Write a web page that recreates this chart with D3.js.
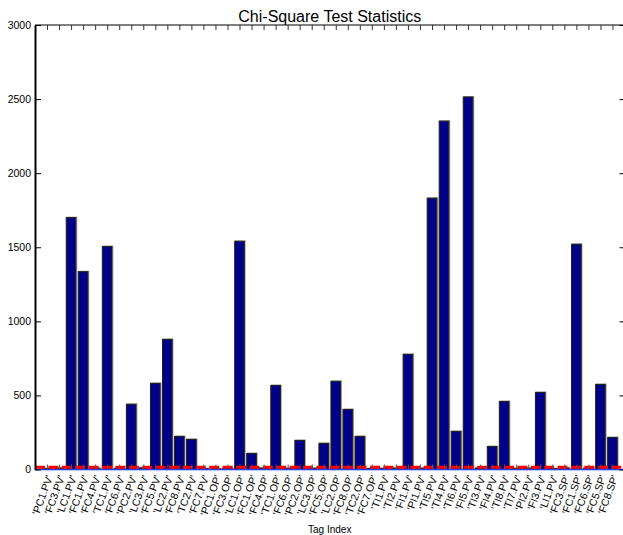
<!DOCTYPE html>
<html>
<head>
<meta charset="utf-8">
<script src="https://cdn.jsdelivr.net/npm/d3@7"></script>
<style>
  body { margin: 0; background: #fff; }
  svg { font-family: "Liberation Sans", Arial, sans-serif; }
</style>
</head>
<body>
<svg id="chart"></svg>
<script>
// tag names along the x axis
const tags = [
  "'PC1.PV'", "'FC3.PV'", "'LC1.PV'", "'FC1.PV'", "'FC4.PV'", "'TC1.PV'", "'FC6.PV'",
  "'PC2.PV'", "'LC3.PV'", "'FC5.PV'", "'LC2.PV'", "'FC8.PV'", "'TC2.PV'", "'FC7.PV'",
  "'PC1.OP'", "'FC3.OP'", "'LC1.OP'", "'FC1.OP'", "'FC4.OP'", "'TC1.OP'", "'FC6.OP'",
  "'PC2.OP'", "'LC3.OP'", "'FC5.OP'", "'LC2.OP'", "'FC8.OP'", "'TC2.OP'", "'FC7.OP'",
  "'TI1.PV'", "'TI2.PV'", "'FI1.PV'", "'PI1.PV'", "'TI5.PV'", "'TI4.PV'", "'TI6.PV'",
  "'FI5.PV'", "'TI3.PV'", "'FI4.PV'", "'TI8.PV'", "'TI7.PV'", "'PI2.PV'", "'FI3.PV'",
  "'LI1.PV'", "'FC3.SP'", "'FC1.SP'", "'FC6.SP'", "'FC5.SP'", "'FC8.SP'"
];
// chi-square statistic per tag
const chi2 = [
  6, 9, 1700, 1335, 8, 1505, 7,
  440, 10, 581, 878, 223, 203, 6,
  5, 8, 1540, 108, 9, 567, 7,
  196, 8, 176, 595, 405, 223, 6,
  7, 9, 777, 8, 1831, 2351, 257,
  2514, 9, 155, 459, 7, 8, 520,
  6, 9, 1520, 8, 574, 216
];
const threshold = 15;
const yTicks = [0, 500, 1000, 1500, 2000, 2500, 3000];

const width = 623, height = 535;
const mLeft = 35, mRight = 624.5, mTop = 25, mBottom = 469.5;

const svg = d3.select("#chart").attr("width", width).attr("height", height);

const x = d3.scaleLinear().domain([0, tags.length + 1]).range([mLeft, mRight]);
const y = d3.scaleLinear().domain([0, 3000]).range([mBottom, mTop]);
const barW = x(0.8) - x(0);

// soft grey edge behind bars
svg.append("g").selectAll("rect").data(chi2).enter().append("rect")
  .attr("x", (d, i) => x(i + 1) - barW / 2 + 0.8)
  .attr("y", d => y(d) - 0.4)
  .attr("width", barW)
  .attr("height", d => y(0) - y(d))
  .style("fill", "none")
  .style("stroke", "#aaa")
  .style("stroke-width", 1.2);

// bars
svg.append("g").selectAll("rect").data(chi2).enter().append("rect")
  .attr("x", (d, i) => x(i + 1) - barW / 2)
  .attr("y", d => y(d))
  .attr("width", barW)
  .attr("height", d => y(0) - y(d))
  .style("fill", "#000088")
  .style("stroke", "#222")
  .style("stroke-width", 1.1);

// baseline (blue) and threshold (red dashed)
svg.append("line")
  .attr("x1", mLeft).attr("x2", mRight)
  .attr("y1", y(0)).attr("y2", y(0))
  .style("stroke", "#1f3fff").style("stroke-width", 1.5);

svg.append("line")
  .attr("x1", mLeft).attr("x2", mRight)
  .attr("y1", y(threshold)).attr("y2", y(threshold))
  .style("stroke", "#ff0000").style("stroke-width", 3)
  .style("stroke-dasharray", "10,3.4");

const idx = d3.range(1, tags.length + 1);

// x axis, ticks inward, rotated labels
const xAxis = svg.append("g")
  .attr("transform", `translate(0,${mBottom})`)
  .call(d3.axisBottom(x).tickValues(idx).tickFormat(i => tags[i - 1]).tickSize(-5).tickSizeOuter(0));
xAxis.select(".domain").remove();
xAxis.selectAll("line").style("stroke", "#555");
xAxis.selectAll("text")
  .style("font-size", "10.5px")
  .style("fill", "#000")
  .attr("text-anchor", "end")
  .attr("x", 0).attr("y", 0).attr("dy", "0.35em")
  .attr("transform", "translate(2,6) rotate(-70)");

// top axis with ticks only
const xTop = svg.append("g")
  .attr("transform", `translate(0,${mTop})`)
  .call(d3.axisTop(x).tickValues(idx).tickFormat("").tickSize(-5).tickSizeOuter(0));
xTop.select(".domain").attr("d", `M${mLeft},0H${mRight}`).style("stroke-width", 1.2);
xTop.selectAll("line").style("stroke", "#333");

// y axis left
const yAxis = svg.append("g")
  .attr("transform", `translate(${mLeft},0)`)
  .call(d3.axisLeft(y).tickValues(yTicks).tickFormat(d3.format("d")).tickSize(-6).tickSizeOuter(0).tickPadding(4));
yAxis.select(".domain").style("stroke-width", 2);
yAxis.selectAll("text").style("font-size", "10.5px").style("fill", "#000");

// right axis ticks
svg.append("g")
  .attr("transform", `translate(${mRight},0)`)
  .call(d3.axisRight(y).tickValues(yTicks).tickFormat("").tickSize(-5).tickSizeOuter(0));

// title and axis label
svg.append("text")
  .attr("x", (mLeft + mRight) / 2).attr("y", 21.5)
  .attr("text-anchor", "middle")
  .style("font-size", "16px")
  .text("Chi-Square Test Statistics");

svg.append("text")
  .attr("x", (mLeft + mRight) / 2).attr("y", 533)
  .attr("text-anchor", "middle")
  .style("font-size", "10px")
  .text("Tag Index");
</script>
</body>
</html>
